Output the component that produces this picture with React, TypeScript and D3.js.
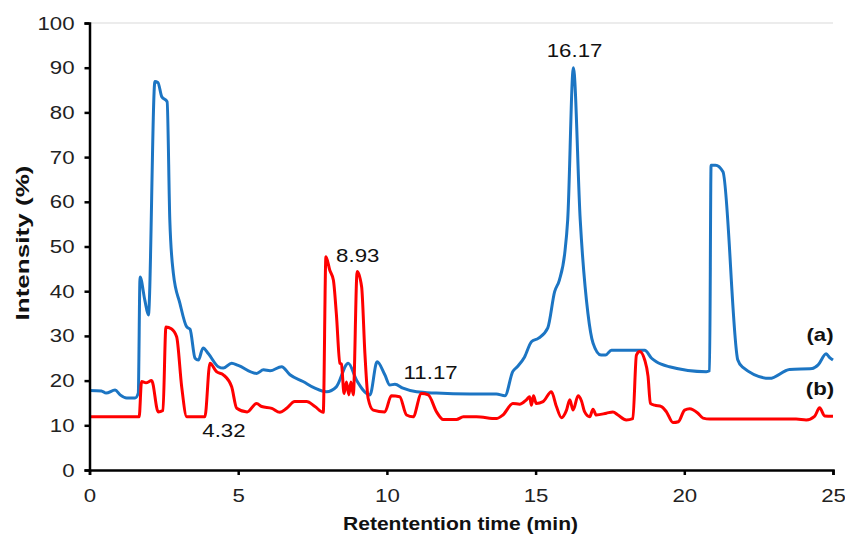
import React, { useEffect, useRef } from "react";
import * as d3 from "d3";

const timeA = [0,0.4,0.56,0.86,1.03,1.25,1.53,1.64,1.7,1.86,1.98,2.2,2.3,2.43,2.61,2.7,2.82,3.04,3.27,3.38,3.55,3.66,3.82,4.0,4.33,4.5,4.78,5.0,5.62,5.85,6.07,6.46,6.74,7.18,7.58,7.97,8.3,8.7,8.98,9.43,9.67,9.93,10.1,10.27,10.54,11.0,11.66,12.79,13.68,13.97,14.23,14.4,14.63,14.86,15.1,15.41,15.64,15.8,15.98,16.08,16.27,16.5,16.76,16.93,17.2,17.35,17.55,18.67,18.9,19.06,19.5,20.74,20.85,20.9,21.05,21.3,21.8,21.96,22.87,23.54,24.3,24.5,24.77,24.88,25];
const valA = [17.8,17.7,17.2,17.9,16.8,16.1,16.1,17.2,43.2,38,34.7,86.9,86.7,83.5,82.4,56,44,37.3,32,31.5,25,24.6,27.3,26,23.1,22.8,23.9,23.4,21.6,22.4,22.2,23.1,21.3,19.8,18.3,17.5,18.6,23.9,20.1,16.8,24.2,21.3,19,19.2,18.3,17.5,17.2,17,17,16.6,22,23.2,25.3,28.7,29.5,31.8,39.9,42.5,48.5,56,90,56,35,28.4,25.7,25.7,26.8,26.8,25,24.2,23.1,22,22.2,68.2,68.2,66.7,24.6,23,20.5,22.5,22.7,23.5,26,25.2,24.6];

const timeB = [0,1.67,1.75,1.9,2.09,2.31,2.47,2.57,2.75,2.93,3.1,3.27,3.88,4.05,4.27,4.5,4.78,4.95,5.3,5.62,5.79,6.13,6.4,6.63,6.9,7.3,7.58,7.86,7.95,8.08,8.2,8.3,8.42,8.47,8.56,8.64,8.72,8.79,8.87,9.0,9.15,9.26,9.37,9.54,9.93,10.15,10.43,10.66,10.88,11.16,11.39,11.67,11.89,12.34,12.57,13.01,13.68,13.9,14.24,14.46,14.69,14.8,14.86,14.93,15.02,15.25,15.53,15.7,15.87,16.04,16.15,16.26,16.43,16.54,16.65,16.82,16.93,17.04,17.38,17.6,17.77,18.05,18.27,18.39,18.5,18.67,18.78,18.86,19.0,19.23,19.4,19.62,19.8,20.01,20.18,20.46,20.63,20.86,23.76,24.1,24.38,24.55,24.72,25];
const valB = [11.9,11.9,19.8,19.5,20,13,13.3,32,31.6,29.8,18.6,11.9,11.9,23.9,22,21.3,18.6,13.8,13,14.9,14.2,13.8,12.9,13.8,15.3,15.3,14.2,12.9,47.7,44.7,42.5,35,23.9,23.7,17.1,19.7,16.8,19.7,16.8,44.4,41,26.1,16,13.4,13,16.6,16.4,12.3,11.9,17.1,16.8,13,11.3,11.3,11.9,11.9,11.5,12.3,14.9,14.7,15.7,16.4,14.5,16.6,14.9,15.3,17.5,14.2,11.7,13.4,15.7,13.4,16.6,15.5,13,11.9,13.6,12.3,12.7,13,12.3,11.2,11.5,25.7,26.5,24.6,21,14.9,14.5,14.2,13,10.6,10.8,13.4,13.7,12.7,11.6,11.4,11.4,11.2,12,13.9,12.1,12];

const xTicks = [0, 5, 10, 15, 20, 25];
const yTicks = [0, 10, 20, 30, 40, 50, 60, 70, 80, 90, 100];

const peakLabels = ["16.17", "8.93", "11.17", "4.32"];
const labelT = [16.31, 9.02, 11.47, 4.52];
const labelV = [92.4, 46.5, 20.4, 7.4];
const seriesNames = ["(a)", "(b)"];
const seriesLabelV = [28.8, 16.8];

const W = 845, H = 535;
const X0 = 89.5, X1 = 833, Y0 = 470, Y1 = 23;
const FONT = "'Liberation Sans', Arial, sans-serif";
const STRETCH = 1.17;

export default function App() {
  const ref = useRef<SVGSVGElement>(null);
  useEffect(() => {
    const svg = d3.select(ref.current);
    svg.selectAll("*").remove();
    const x = d3.scaleLinear().domain([0, 25]).range([X0, X1]);
    const y = d3.scaleLinear().domain([0, 100]).range([Y0, Y1]);

    svg.append("line").attr("x1", X0).attr("x2", X1).attr("y1", y(100)).attr("y2", y(100))
      .attr("stroke", "#d9d9d9").attr("stroke-width", 1);

    const line = d3.line<[number, number]>().x(d => x(d[0])).y(d => y(d[1])).curve(d3.curveMonotoneX);
    const dA = timeA.map((t, i) => [t, valA[i]] as [number, number]);
    const dB = timeB.map((t, i) => [t, valB[i]] as [number, number]);
    svg.append("path").attr("d", line(dA)).attr("fill", "none").attr("stroke", "#1c75c3")
      .attr("stroke-width", 3).attr("stroke-linejoin", "round");
    svg.append("path").attr("d", line(dB)).attr("fill", "none").attr("stroke", "#ff0000")
      .attr("stroke-width", 3).attr("stroke-linejoin", "round");

    const xAxis = svg.append("g").attr("transform", `translate(0,${Y0})`)
      .call(d3.axisBottom(x).tickValues(xTicks).tickSize(5).tickPadding(14).tickFormat(d3.format("d")));
    const yAxis = svg.append("g").attr("transform", `translate(${X0},0)`)
      .call(d3.axisLeft(y).tickValues(yTicks).tickSize(5).tickPadding(10).tickFormat(d3.format("d")));
    [xAxis, yAxis].forEach(g => {
      g.select(".domain").attr("stroke", "#000").attr("stroke-width", 2.5);
      g.selectAll(".tick line").attr("stroke", "#000").attr("stroke-width", 2.5);
      g.selectAll("text").attr("font-family", FONT).attr("font-size", 19).attr("fill", "#222");
    });

    const lab = svg.append("g").attr("font-family", FONT).attr("font-size", 19).attr("fill", "#111");
    peakLabels.forEach((s, i) => {
      lab.append("text").attr("x", x(labelT[i])).attr("y", y(labelV[i]))
        .attr("text-anchor", "middle").text(s);
    });
    seriesNames.forEach((s, i) => {
      svg.append("text").attr("class", "stretch").attr("x", 820).attr("y", y(seriesLabelV[i])).attr("text-anchor", "middle")
        .attr("font-family", FONT).attr("font-size", 19).attr("font-weight", "bold").attr("fill", "#111").text(s);
    });
    svg.append("text").attr("x", 460.5).attr("y", 530).attr("text-anchor", "middle")
      .attr("font-family", FONT).attr("font-size", 18).attr("font-weight", "bold").attr("fill", "#111")
      .attr("textLength", 235).attr("lengthAdjust", "spacingAndGlyphs")
      .text("Retentention time (min)");
    svg.append("text").attr("transform", `translate(29,243) rotate(-90)`).attr("text-anchor", "middle")
      .attr("font-family", FONT).attr("font-size", 19).attr("font-weight", "bold").attr("fill", "#111")
      .attr("textLength", 155).attr("lengthAdjust", "spacingAndGlyphs")
      .text("Intensity (%)");

    svg.selectAll<SVGTextElement, unknown>(".tick text, g text, text.stretch").each(function () {
      const el = this as SVGTextElement;
      if (el.getAttribute("textLength")) return;
      const w = el.getComputedTextLength();
      el.setAttribute("textLength", String(w * STRETCH));
      el.setAttribute("lengthAdjust", "spacingAndGlyphs");
    });
  }, []);
  return (
    <div style={{ position: "absolute", left: 0, top: 0 }}>
      <svg ref={ref} width={W} height={H} style={{ display: "block", background: "#fff" }} />
    </div>
  );
}
